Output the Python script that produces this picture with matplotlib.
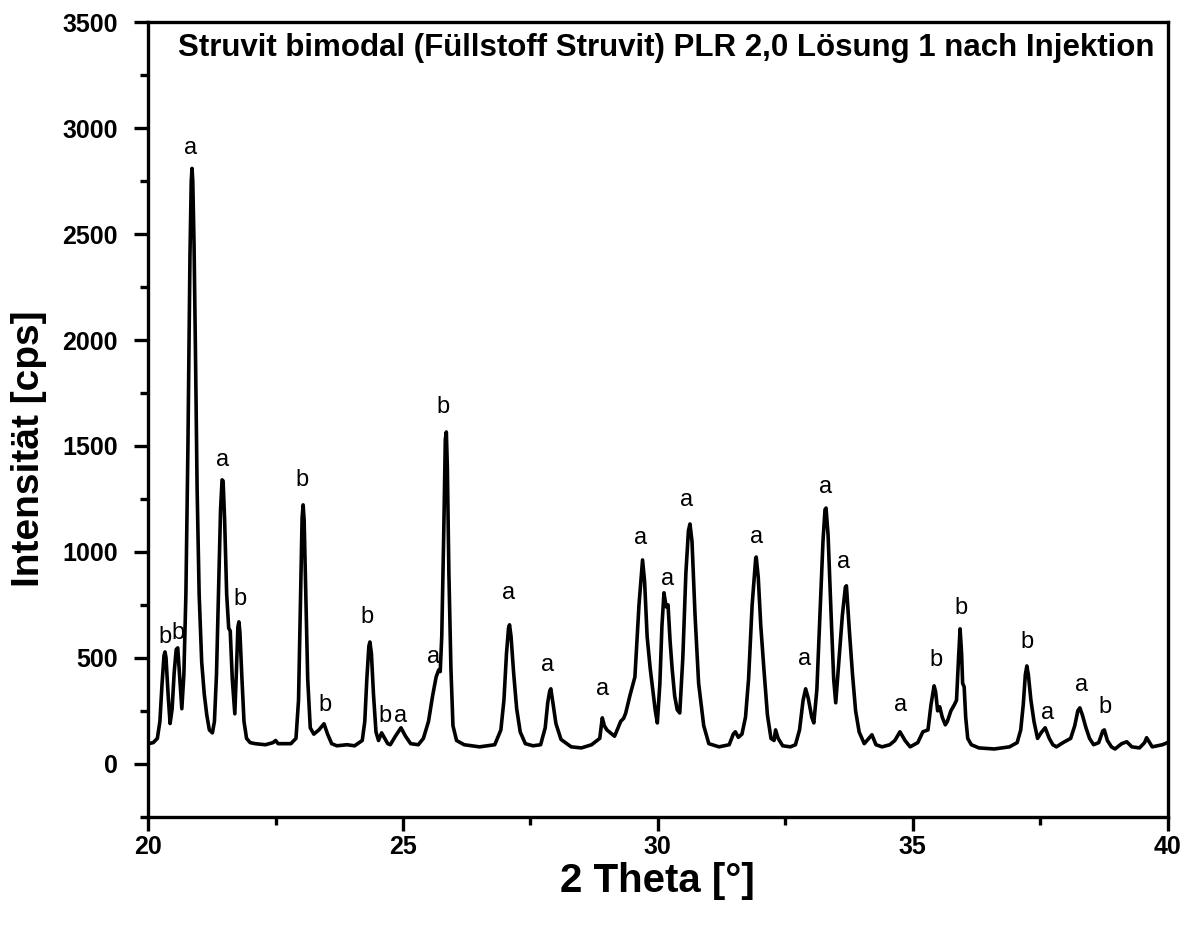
import matplotlib
matplotlib.use('Agg')
import matplotlib.pyplot as plt
from matplotlib.ticker import MultipleLocator

plt.rcParams['font.family'] = ['Liberation Sans', 'DejaVu Sans']

# diffractogram: 2 theta [deg] and intensity [cps]
two_theta = [
    20.00, 20.10, 20.18, 20.23, 20.27, 20.31, 20.33, 20.35, 20.39, 20.43,
    20.47, 20.51, 20.55, 20.58, 20.62, 20.66, 20.70, 20.74, 20.78, 20.82,
    20.845, 20.86, 20.875, 20.90, 20.93, 20.96, 21.00, 21.05, 21.10, 21.15,
    21.20, 21.26, 21.30, 21.34, 21.38, 21.42, 21.45, 21.47, 21.50, 21.54,
    21.58, 21.61, 21.65, 21.70, 21.73, 21.76, 21.78, 21.80, 21.84, 21.88,
    21.93, 22.00, 22.10, 22.30, 22.45, 22.50, 22.55, 22.80, 22.90, 22.95,
    22.99, 23.02, 23.04, 23.06, 23.09, 23.13, 23.18, 23.25, 23.35, 23.45,
    23.52, 23.60, 23.70, 23.90, 24.05, 24.20, 24.25, 24.29, 24.33, 24.35,
    24.38, 24.42, 24.47, 24.52, 24.58, 24.63, 24.70, 24.75, 24.85, 24.96,
    25.05, 25.15, 25.30, 25.40, 25.50, 25.58, 25.65, 25.70, 25.73, 25.76,
    25.80, 25.83, 25.85, 25.87, 25.90, 25.94, 25.98, 26.05, 26.20, 26.50,
    26.80, 26.92, 26.98, 27.03, 27.07, 27.09, 27.12, 27.17, 27.23, 27.30,
    27.40, 27.55, 27.70, 27.79, 27.84, 27.88, 27.90, 27.94, 28.00, 28.10,
    28.30, 28.50, 28.70, 28.86, 28.91, 28.95, 29.00, 29.10, 29.15, 29.22,
    29.27, 29.33, 29.37, 29.45, 29.55, 29.63, 29.70, 29.74, 29.79, 29.85,
    29.90, 29.95, 29.99, 30.04, 30.08, 30.12, 30.15, 30.17, 30.20, 30.24,
    30.28, 30.33, 30.38, 30.43, 30.49, 30.55, 30.60, 30.63, 30.67, 30.73,
    30.80, 30.90, 31.00, 31.20, 31.40, 31.48, 31.52, 31.58, 31.65, 31.72,
    31.78, 31.85, 31.92, 31.93, 31.97, 32.02, 32.08, 32.15, 32.22, 32.28,
    32.31, 32.36, 32.45, 32.60, 32.70, 32.78, 32.85, 32.90, 32.95, 33.02,
    33.06, 33.12, 33.18, 33.24, 33.28, 33.30, 33.34, 33.40, 33.45, 33.49,
    33.55, 33.62, 33.68, 33.70, 33.76, 33.82, 33.88, 33.95, 34.05, 34.20,
    34.28, 34.40, 34.55, 34.65, 34.75, 34.85, 34.95, 35.10, 35.20, 35.30,
    35.36, 35.42, 35.45, 35.49, 35.53, 35.58, 35.64, 35.68, 35.75, 35.82,
    35.86, 35.90, 35.93, 35.96, 35.98, 36.01, 36.04, 36.08, 36.15, 36.30,
    36.60, 36.90, 37.05, 37.12, 37.17, 37.21, 37.24, 37.27, 37.32, 37.38,
    37.45, 37.53, 37.60, 37.68, 37.75, 37.82, 37.95, 38.10, 38.18, 38.24,
    38.28, 38.33, 38.40, 38.47, 38.55, 38.65, 38.73, 38.76, 38.82, 38.90,
    38.97, 39.10, 39.20, 39.30, 39.45, 39.55, 39.59, 39.70, 39.80, 39.90,
    40.00,
]
intensity = [
    95, 100, 120, 200, 370, 510, 528, 500, 330, 190,
    260, 430, 540, 547, 400, 260, 420, 800, 1500, 2400,
    2750, 2810, 2750, 2450, 1900, 1300, 800, 480, 330, 230,
    160, 146, 200, 420, 800, 1200, 1340, 1335, 1150, 800,
    640, 627, 400, 236, 430, 645, 670, 620, 400, 200,
    120, 100, 95, 90, 100, 110, 95, 95, 120, 300,
    780, 1160, 1222, 1150, 830, 400, 170, 140, 160, 189,
    140, 95, 85, 90, 85, 110, 200, 400, 555, 575,
    520, 330, 150, 110, 146, 125, 95, 90, 130, 170,
    130, 95, 90, 120, 200, 320, 410, 443, 435, 600,
    1100, 1530, 1566, 1400, 900, 450, 180, 110, 90, 80,
    90, 160, 300, 520, 640, 656, 600, 430, 260, 150,
    95, 85, 90, 170, 290, 345, 354, 290, 190, 115,
    80, 75, 90, 120, 217, 180, 160, 140, 130, 170,
    200, 215, 240, 320, 410, 750, 962, 860, 600, 450,
    350, 250, 193, 380, 650, 807, 760, 740, 750, 580,
    450, 320, 255, 240, 500, 900, 1100, 1132, 1050, 700,
    380, 180, 95, 80, 90, 140, 151, 125, 140, 220,
    400, 750, 970, 976, 880, 650, 450, 230, 120, 110,
    160, 120, 85, 80, 90, 160, 300, 354, 310, 220,
    193, 350, 700, 1050, 1200, 1207, 1080, 700, 400, 288,
    480, 700, 835, 840, 620, 420, 250, 150, 95, 137,
    90, 80, 90, 110, 151, 110, 80, 100, 151, 160,
    280, 368, 340, 250, 269, 220, 184, 200, 250, 280,
    300, 500, 637, 520, 380, 363, 220, 120, 90, 75,
    70, 80, 100, 160, 280, 420, 462, 420, 300, 200,
    120, 150, 170, 120, 90, 80, 100, 120, 180, 250,
    264, 230, 170, 120, 90, 100, 155, 160, 110, 80,
    70, 95, 104, 80, 75, 100, 123, 80, 85, 90,
    100,
]

# phase markers above the reflexes
mark_x = [20.33, 20.59, 20.84, 21.45, 21.80, 23.02, 23.47, 24.29, 24.65, 24.96,
          25.60, 25.78, 27.08, 27.84, 28.92, 29.67, 30.20, 30.57, 31.94, 32.88,
          33.29, 33.65, 34.76, 35.45, 35.94, 37.24, 37.65, 38.31, 38.78]
mark_y = [599, 618, 2906, 1434, 778, 1340, 278, 693, 226, 226,
          505, 1684, 807, 467, 354, 1066, 873, 1245, 1071, 495,
          1307, 953, 278, 491, 736, 573, 241, 373, 269]
mark_text = ['b', 'b', 'a', 'a', 'b', 'b', 'b', 'b', 'b', 'a',
             'a', 'b', 'a', 'a', 'a', 'a', 'a', 'a', 'a', 'a',
             'a', 'a', 'a', 'b', 'b', 'b', 'a', 'a', 'b']

title = 'Struvit bimodal (Füllstoff Struvit) PLR 2,0 Lösung 1 nach Injektion'

fig = plt.figure(figsize=(11.95, 9.25), dpi=100)
ax = fig.add_axes([0.124, 0.117, 0.853, 0.859])

ax.plot(two_theta, intensity, color='black', linewidth=2.6)

for x, y, t in zip(mark_x, mark_y, mark_text):
    ax.text(x, y, t, ha='center', va='center', fontsize=17)

ax.text(0.508, 0.967, title, transform=ax.transAxes, ha='center', va='center',
        fontsize=22.5, fontweight='bold')

ax.set_xlim(20, 40)
ax.set_ylim(-250, 3500)
ax.xaxis.set_major_locator(MultipleLocator(5))
ax.xaxis.set_minor_locator(MultipleLocator(2.5))
ax.yaxis.set_major_locator(MultipleLocator(500))
ax.yaxis.set_minor_locator(MultipleLocator(250))

ax.tick_params(which='major', direction='out', length=10, width=2.4,
               labelsize=18, top=False, right=False)
ax.tick_params(axis='y', which='major', pad=12)
ax.tick_params(axis='x', which='major', pad=3)
ax.tick_params(which='minor', direction='out', length=6, width=2.4,
               top=False, right=False)
for lab in ax.get_xticklabels() + ax.get_yticklabels():
    lab.set_fontweight('bold')

for sp in ax.spines.values():
    sp.set_linewidth(2.4)

ax.set_xlabel('2 Theta [°]', fontsize=29, fontweight='bold')
ax.set_ylabel('Intensität [cps]', fontsize=28, fontweight='bold')
ax.xaxis.set_label_coords(0.5, -0.057)
ax.yaxis.set_label_coords(-0.099, 0.463)

fig.savefig('out.png', dpi=100)
